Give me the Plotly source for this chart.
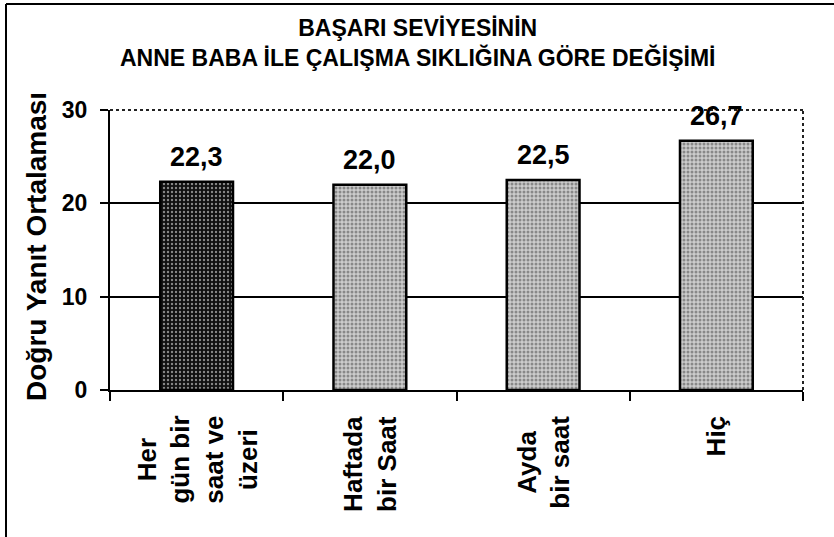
import plotly.graph_objects as go

categories = ["Her<br>gün bir<br>saat ve<br>üzeri", "Haftada<br>bir Saat", "Ayda<br>bir saat", "Hiç"]
values = [22.3, 22.0, 22.5, 26.7]
ytick_vals = [0, 10, 20, 30]
title_text = "BAŞARI SEVİYESİNİN<br>ANNE BABA İLE ÇALIŞMA SIKLIĞINA GÖRE DEĞİŞİMİ"
ytitle_text = "Doğru Yanıt Ortalaması"

FONT = "Liberation Sans, Arial, sans-serif"

# page geometry of the plot area
W, H = 834, 537
L, R, T, B = 110, 31, 110, 147
pw, ph = W - L - R, H - T - B

bar_bg = ["#101010", "#cccccc", "#cccccc", "#cccccc"]
bar_fg = ["#7a7a7a", "#000000", "#000000", "#000000"]
bar_sol = [0.28, 0.45, 0.45, 0.45]


def px_x(p):
    return (p - L) / pw


def px_y(p):
    return (H - B - p) / ph


fig = go.Figure()
fig.add_trace(go.Bar(
    x=categories, y=values,
    marker=dict(
        color=bar_bg,
        line=dict(color="black", width=2.5),
        pattern=dict(shape=".", fgcolor=bar_fg, bgcolor=bar_bg, size=4, solidity=bar_sol, fillmode="overlay"),
    ),
    showlegend=False, hoverinfo="skip",
))

annotations = []
for c, v in zip(categories, values):
    annotations.append(dict(
        x=c, y=v, xref="x", yref="y", text=f"{v:.1f}".replace(".", ","),
        showarrow=False, yanchor="bottom", yshift=8,
        font=dict(family=FONT, size=27, color="black", weight="bold"),
    ))
    annotations.append(dict(
        x=c, y=0, xref="x", yref="paper", text=c, textangle=-90, align="center",
        showarrow=False, yanchor="top", xanchor="center", yshift=-24,
        font=dict(family=FONT, size=26, color="black", weight="bold"),
    ))

annotations.append(dict(
    x=px_x(36), y=px_y(247), xref="paper", yref="paper", text=ytitle_text, textangle=-90,
    showarrow=False, xanchor="center", yanchor="middle",
    font=dict(family=FONT, size=28, color="black", weight="bold"),
))

annotations.append(dict(
    x=px_x(417), y=px_y(13), xref="paper", yref="paper", text=title_text,
    showarrow=False, xanchor="center", yanchor="top", align="center",
    font=dict(family=FONT, size=23, color="black", weight="bold"),
))

shapes = [
    # hide the solid grid line at the top, then dotted top and right plot border
    dict(type="line", xref="paper", yref="paper", x0=0.003, x1=1, y0=1, y1=1,
         line=dict(color="white", width=3), layer="above"),
    dict(type="line", xref="paper", yref="paper", x0=0, x1=1, y0=1, y1=1,
         line=dict(color="#222", width=2, dash="dot"), layer="above"),
    dict(type="line", xref="paper", yref="paper", x0=1, x1=1, y0=0, y1=1,
         line=dict(color="#222", width=2, dash="dot"), layer="above"),
    # outer frame (left and top)
    dict(type="line", xref="paper", yref="paper", x0=px_x(6), x1=px_x(6), y0=px_y(4), y1=px_y(H + 5),
         line=dict(color="black", width=2)),
    dict(type="line", xref="paper", yref="paper", x0=px_x(6), x1=px_x(W + 5), y0=px_y(4), y1=px_y(4),
         line=dict(color="black", width=2)),
]

fig.update_layout(
    width=W, height=H,
    margin=dict(l=L, r=R, t=T, b=B, autoexpand=False),
    paper_bgcolor="white", plot_bgcolor="white",
    font=dict(family=FONT, color="black"),
    bargap=0.58,
    annotations=annotations,
    shapes=shapes,
)
fig.update_xaxes(
    showticklabels=False, tickson="boundaries", ticks="outside", ticklen=9, tickwidth=2,
    tickcolor="black", showline=True, linecolor="black", linewidth=2, showgrid=False,
    automargin=False,
)
fig.update_yaxes(
    range=[0, 30], tickvals=ytick_vals, ticks="outside", ticklen=8, tickwidth=2,
    tickcolor="black", showline=True, linecolor="black", linewidth=2,
    showgrid=True, gridcolor="black", gridwidth=2, zeroline=False,
    ticklabelstandoff=8, automargin=False,
    tickfont=dict(family=FONT, size=23, color="black", weight="bold"),
)

fig.write_html(
    "out.html",
    config={"displayModeBar": False},
    post_script="document.body.style.margin='0px';document.body.style.overflow='hidden';",
)
